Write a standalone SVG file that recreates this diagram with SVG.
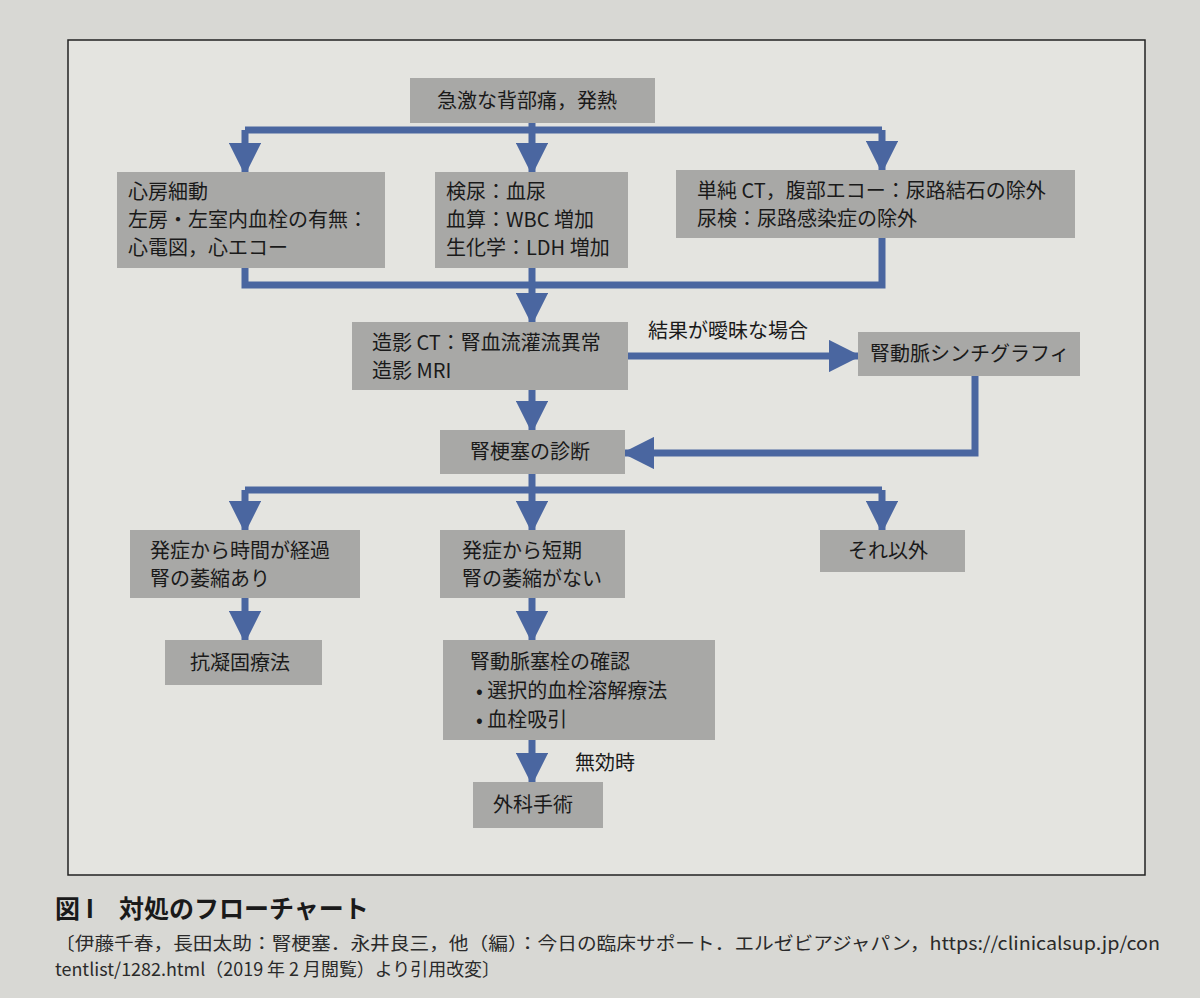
<svg xmlns="http://www.w3.org/2000/svg" width="1200" height="998" viewBox="0 0 1200 998">
<defs>
<marker id="ah" viewBox="0 0 10 10" refX="9" refY="5" markerWidth="4.6" markerHeight="4.6" orient="auto" markerUnits="strokeWidth">
<path d="M0,0 L10,5 L0,10 z" fill="#4a66a0"/>
</marker>
<style>
.b{fill:#a8a8a6}
.t{font-family:"Noto Sans CJK JP","Noto Sans",sans-serif;font-size:20px;fill:#1a1a1a}
.c{fill:none;stroke:#4a66a0;stroke-width:7}
.a{marker-end:url(#ah)}
.cap{font-family:"Noto Sans CJK JP",sans-serif;font-size:18px;fill:#2a2a2a}
</style>
</defs>
<rect width="1200" height="998" fill="#d8d8d4"/>
<rect x="68" y="40" width="1077" height="835" fill="#e4e4e0" stroke="#222" stroke-width="1.5"/>
<g id="connectors">
<path class="c" d="M532,123 V130 M245,130 H882"/>
<path class="c a" d="M245,130 V172"/>
<path class="c a" d="M532,130 V172"/>
<path class="c a" d="M882,130 V170"/>
<path class="c" d="M245,268 V285 H882 V238 M532,268 V285"/>
<path class="c a" d="M532,285 V322"/>
<path class="c a" d="M628,356 H858"/>
<path class="c a" d="M532,390 V430"/>
<path class="c a" d="M975,376 V453 H625"/>
<path class="c" d="M532,474 V490 M245,490 H882"/>
<path class="c a" d="M245,490 V530"/>
<path class="c a" d="M532,490 V530"/>
<path class="c a" d="M882,490 V530"/>
<path class="c a" d="M245,598 V640"/>
<path class="c a" d="M532,598 V640"/>
<path class="c a" d="M532,740 V782"/>
<text class="t" x="648" y="338">結果が曖昧な場合</text>
<text class="t" x="575" y="770">無効時</text>
</g>
<g id="n1"><rect class="b" x="410" y="78" width="245" height="45"/><text class="t" x="437" y="108">急激な背部痛，発熱</text></g>
<g id="n2"><rect class="b" x="117" y="172" width="268" height="96"/><text class="t" x="128" y="199">心房細動</text><text class="t" x="128" y="227">左房・左室内血栓の有無：</text><text class="t" x="128" y="255">心電図，心エコー</text></g>
<g id="n3"><rect class="b" x="435" y="172" width="193" height="96"/><text class="t" x="446" y="199">検尿：血尿</text><text class="t" x="446" y="227">血算：WBC 増加</text><text class="t" x="446" y="255">生化学：LDH 増加</text></g>
<g id="n4"><rect class="b" x="676" y="170" width="399" height="68"/><text class="t" x="697" y="198">単純 CT，腹部エコー：尿路結石の除外</text><text class="t" x="697" y="226">尿検：尿路感染症の除外</text></g>
<g id="n5"><rect class="b" x="352" y="322" width="276" height="68"/><text class="t" x="372" y="350">造影 CT：腎血流灌流異常</text><text class="t" x="372" y="378">造影 MRI</text></g>
<g id="n6"><rect class="b" x="858" y="332" width="222" height="44"/><text class="t" x="870" y="361">腎動脈シンチグラフィ</text></g>
<g id="n7"><rect class="b" x="440" y="430" width="185" height="44"/><text class="t" x="470" y="459">腎梗塞の診断</text></g>
<g id="n8"><rect class="b" x="130" y="530" width="230" height="68"/><text class="t" x="150" y="558">発症から時間が経過</text><text class="t" x="150" y="586">腎の萎縮あり</text></g>
<g id="n9"><rect class="b" x="440" y="530" width="185" height="68"/><text class="t" x="462" y="558">発症から短期</text><text class="t" x="462" y="586">腎の萎縮がない</text></g>
<g id="n10"><rect class="b" x="820" y="530" width="145" height="42"/><text class="t" x="848" y="558">それ以外</text></g>
<g id="n11"><rect class="b" x="165" y="640" width="157" height="45"/><text class="t" x="190" y="670">抗凝固療法</text></g>
<g id="n12"><rect class="b" x="443" y="640" width="272" height="100"/><text class="t" x="470" y="669">腎動脈塞栓の確認</text><text class="t" x="476" y="698">• 選択的血栓溶解療法</text><text class="t" x="476" y="727">• 血栓吸引</text></g>
<g id="n13"><rect class="b" x="473" y="782" width="130" height="46"/><text class="t" x="493" y="812">外科手術</text></g>
<text x="55" y="918" font-family="Noto Sans CJK JP,sans-serif" font-size="25" font-weight="bold" fill="#1a1a1a">図 I　対処のフローチャート</text>
<text class="cap" x="55" y="950" textLength="1105" lengthAdjust="spacingAndGlyphs">〔伊藤千春，長田太助：腎梗塞．永井良三，他（編）：今日の臨床サポート．エルゼビアジャパン，https://clinicalsup.jp/con</text>
<text class="cap" x="55" y="976" textLength="445" lengthAdjust="spacingAndGlyphs">tentlist/1282.html（2019 年 2 月閲覧）より引用改変〕</text>
</svg>
